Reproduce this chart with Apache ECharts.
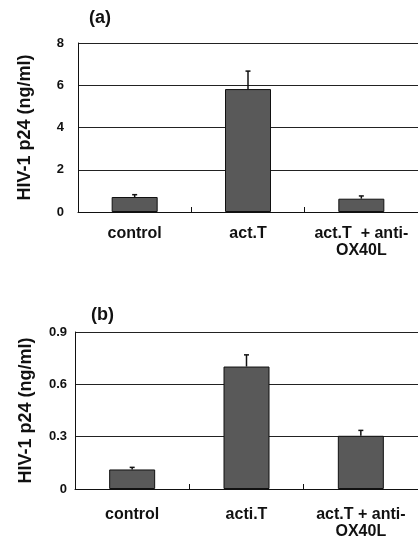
<!DOCTYPE html>
<html><head><meta charset="utf-8">
<script src="https://cdn.jsdelivr.net/npm/echarts@6/dist/echarts.min.js"></script>
<style>html,body{margin:0;padding:0;background:#fff}#c{width:418px;height:548px}</style>
</head><body><div id="c"></div>
<script>
var categoriesA = ['control', 'act.T', 'act.T  + anti-\nOX40L'];
var valuesA = [0.71, 5.82, 0.63];
var errorsA = [0.11, 0.85, 0.13];
var ticksA = [0, 2, 4, 6, 8];

var categoriesB = ['control', 'acti.T', 'act.T + anti-\nOX40L'];
var valuesB = [0.112, 0.702, 0.305];
var errorsB = [0.012, 0.067, 0.031];
var ticksB = [0, 0.3, 0.6, 0.9];

var FONT = '"Liberation Sans", Arial, sans-serif';
var chart = echarts.init(document.getElementById('c'), null, {renderer: 'canvas'});

function errData(vals, errs) {
  return vals.map(function (v, i) { return [i, v, v + errs[i]]; });
}
function errRender(params, api) {
  var i = api.value(0);
  var p0 = api.coord([i, api.value(1)]);
  var p1 = api.coord([i, api.value(2)]);
  var w = 2.5;
  return {
    type: 'group',
    children: [
      {type: 'line', shape: {x1: p0[0], y1: p0[1], x2: p1[0], y2: p1[1]}, style: {stroke: '#111', lineWidth: 1.5}},
      {type: 'line', shape: {x1: p1[0] - w, y1: p1[1], x2: p1[0] + w, y2: p1[1]}, style: {stroke: '#111', lineWidth: 1.5}}
    ]
  };
}
function xAxis(cats, gi, margin) {
  return {
    type: 'category', gridIndex: gi, data: cats, boundaryGap: true,
    axisLine: {show: true, lineStyle: {color: '#111', width: 1}},
    axisTick: {show: true, inside: true, length: 5, lineStyle: {color: '#111'}},
    axisLabel: {color: '#111', fontFamily: FONT, fontWeight: 'bold', fontSize: 16, lineHeight: 17, margin: margin, interval: 0},
    splitLine: {show: false}
  };
}
function yAxis(ticks, gi, margin) {
  var step = ticks[1] - ticks[0];
  return {
    type: 'value', gridIndex: gi, min: ticks[0], max: ticks[ticks.length - 1], interval: step,
    name: 'HIV-1 p24 (ng/ml)', nameLocation: 'middle', nameGap: gi === 0 ? 44 : 40, nameRotate: 90,
    nameTextStyle: {color: '#111', fontFamily: FONT, fontWeight: 'bold', fontSize: 18},
    axisLine: {show: true, lineStyle: {color: '#111', width: 1}},
    axisTick: {show: false},
    axisLabel: {color: '#111', fontFamily: FONT, fontWeight: 'bold', fontSize: 13, margin: margin,
      formatter: function (v) { return String(Math.round(v * 10) / 10); }},
    splitLine: {show: true, lineStyle: {color: '#222', width: 1}}
  };
}
var barStyle = {color: '#595959', borderColor: '#111', borderWidth: 1};

chart.setOption({
  animation: false,
  aria: {enabled: false},
  title: [
    {text: '(a)', left: 84, top: 4, textStyle: {fontFamily: FONT, fontWeight: 'bold', fontSize: 18, color: '#111'}},
    {text: '(b)', left: 86, top: 301, textStyle: {fontFamily: FONT, fontWeight: 'bold', fontSize: 18, color: '#111'}}
  ],
  grid: [
    {left: 78, right: 0, top: 43, height: 169},
    {left: 75, right: 0, top: 332, height: 157}
  ],
  xAxis: [xAxis(categoriesA, 0, 13), xAxis(categoriesB, 1, 17)],
  yAxis: [yAxis(ticksA, 0, 14), yAxis(ticksB, 1, 8)],
  series: [
    {type: 'bar', xAxisIndex: 0, yAxisIndex: 0, data: valuesA, barWidth: 46, itemStyle: barStyle, z: 3},
    {type: 'custom', xAxisIndex: 0, yAxisIndex: 0, data: errData(valuesA, errorsA), renderItem: errRender, z: 2},
    {type: 'bar', xAxisIndex: 1, yAxisIndex: 1, data: valuesB, barWidth: 46, itemStyle: barStyle, z: 3},
    {type: 'custom', xAxisIndex: 1, yAxisIndex: 1, data: errData(valuesB, errorsB), renderItem: errRender, z: 2}
  ]
});
</script></body></html>
